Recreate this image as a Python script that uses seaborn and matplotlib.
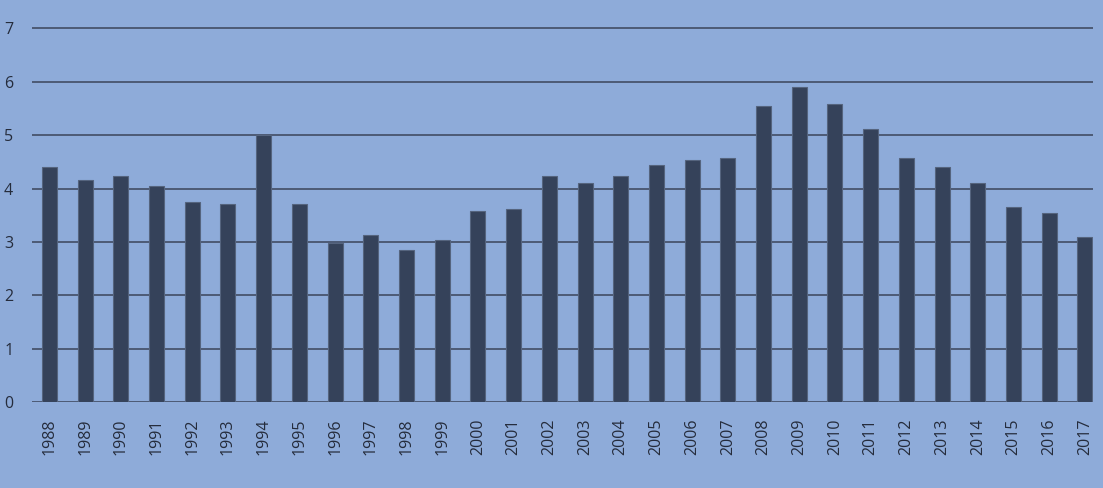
import numpy as np
import matplotlib
matplotlib.use("Agg")
import matplotlib.pyplot as plt
import seaborn as sns
import pandas as pd

years = [str(y) for y in range(1988, 2018)]
values = [4.40, 4.17, 4.23, 4.04, 3.75, 3.72, 5.00, 3.72, 2.98, 3.13,
          2.85, 3.04, 3.58, 3.61, 4.24, 4.10, 4.24, 4.44, 4.54, 4.57,
          5.55, 5.91, 5.59, 5.11, 4.57, 4.40, 4.10, 3.65, 3.54, 3.10]
yticks = [0, 1, 2, 3, 4, 5, 6, 7]

bg = '#8eabd9'
bar_col = '#35425a'
grid_col = '#4d5a75'
text_col = '#252c3c'

sns.set_theme(style='white')
plt.rcParams['font.family'] = ['Open Sans', 'DejaVu Sans']

df = pd.DataFrame({'year': years, 'value': values})

fig = plt.figure(figsize=(11.03, 4.88), dpi=100, facecolor=bg)
ax = fig.add_axes([0.029, 0.176, 0.962, 0.770])
ax.set_facecolor(bg)

sns.barplot(data=df, x='year', y='value', color=bar_col, saturation=1,
            width=0.42, edgecolor='#55647e', linewidth=0.8, ax=ax, zorder=3)

ax.set_ylim(0, 7.04)
ax.set_xlim(-0.49, 29.23)
ax.set_yticks(yticks)
ax.set_yticklabels([str(t) for t in yticks])
ax.yaxis.grid(True, color=grid_col, linewidth=1.4, zorder=0)
ax.set_axisbelow(True)
for s in ax.spines.values():
    s.set_visible(False)

ax.tick_params(axis='y', length=0, pad=13.5, labelsize=11.5, labelcolor=text_col)
ax.tick_params(axis='x', length=0, pad=12, labelsize=11.5, labelcolor=text_col,
               labelrotation=90)
ax.set_xlabel('')
ax.set_ylabel('')

fig.savefig('out.png', dpi=100, facecolor=bg)
